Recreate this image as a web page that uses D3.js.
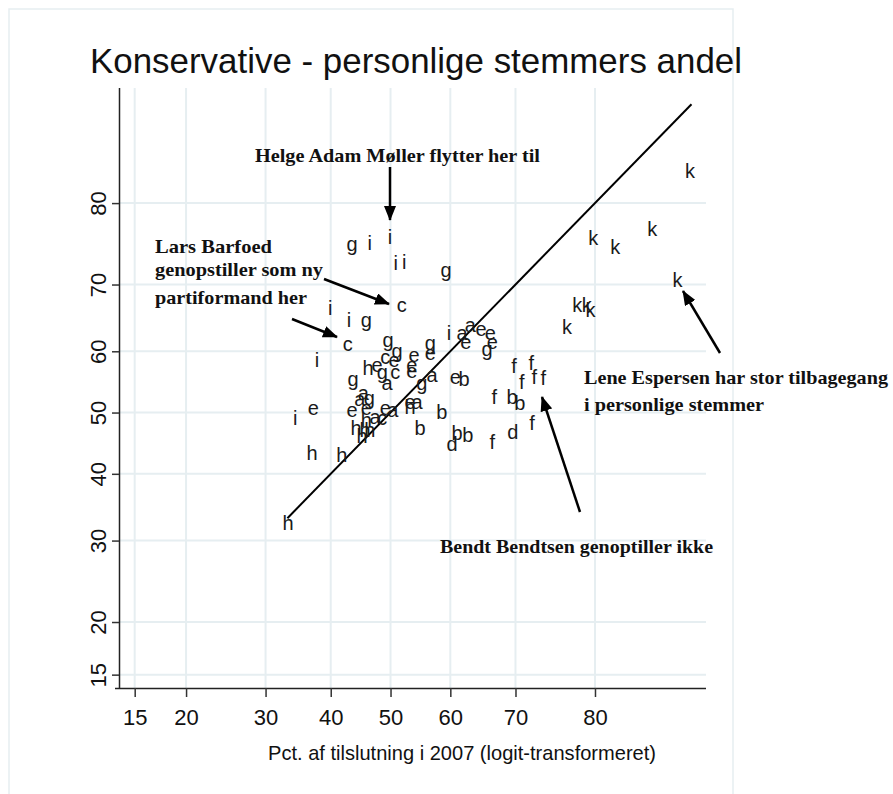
<!DOCTYPE html>
<html><head><meta charset="utf-8">
<script src="https://cdnjs.cloudflare.com/ajax/libs/d3/7.8.5/d3.min.js"></script>
<style>body{margin:0;background:#fff}svg{display:block}</style>
</head><body><svg id="chart" width="893" height="794"></svg>
<script>
// ---- data ----
const tickValues = [15, 20, 30, 40, 50, 60, 70, 80];
const tickLabels = ["15", "20", "30", "40", "50", "60", "70", "80"];
const pointLabels = ["k","i","g","i","i","i","g","k","k","k","k","c","i","i","g","k","k","k","k","c",
  "i","g","g","g","e","e","c","e","h","e","g","c","e","e","a","g","g","a","a","a",
  "g","e","e","a","e","a","h","b","e","i","a","c","e","h","h","h","h","h","b","h",
  "h","h","b","b","d","f","d","b","b","f","f","f","f","f","f","f","i","a","a","e",
  "e","e","g","e","e","b"];
const xValues = [88.4,49.9,43.5,46.5,50.9,52.3,59.3,79.8,82.1,85.5,87.5,51.9,39.9,43.0,45.9,78.0,79.1,79.5,76.8,42.8,
  37.8,49.6,51.1,56.7,54.0,56.7,49.1,50.6,46.2,47.7,48.6,50.8,53.6,53.6,49.4,43.7,55.3,57.0,45.4,44.8,
  46.4,43.5,49.1,50.4,53.3,54.5,53.3,58.6,37.2,34.4,47.4,48.6,45.9,45.9,44.2,45.7,46.5,45.2,55.0,37.0,
  41.8,33.3,61.1,62.8,60.3,66.6,69.6,69.5,70.6,66.9,69.8,72.2,70.9,72.6,73.8,72.3,59.8,63.2,61.9,62.5,
  64.9,66.3,65.8,66.6,60.8,62.2];
const yValues = [83.2,76.2,75.3,75.4,72.9,73.0,72.0,76.0,74.9,77.1,70.6,67.1,66.6,64.8,64.8,67.1,67.1,66.3,63.8,61.1,
  58.6,61.8,60.0,61.3,59.4,59.7,59.1,58.6,57.3,57.8,56.7,56.7,57.8,56.8,54.9,55.5,54.9,56.2,53.2,52.2,
  52.4,50.4,50.7,50.4,51.7,51.7,50.9,50.1,50.7,49.1,49.3,49.1,50.7,48.8,47.4,47.1,47.1,46.1,47.4,43.3,
  43.0,32.5,46.6,46.3,44.8,45.1,46.8,52.6,51.6,52.6,57.6,58.1,55.0,55.8,55.7,48.3,62.9,64.1,62.9,61.5,
  63.5,62.9,60.3,61.5,55.8,55.5];
const diagonalRange = [33.2, 88.5];
const titleText = "Konservative - personlige stemmers andel";
const xTitleText = "Pct. af tilslutning i 2007 (logit-transformeret)";

// ---- layout ----
const svg = d3.select("#chart");
const logit = p => Math.log(p / (100 - p));
const plot = {left: 119, right: 706, top: 88, bottom: 688};
const x = d3.scaleLinear().domain([-1.841, 2.139]).range([plot.left, plot.right]);
const y = d3.scaleLinear().domain([-1.823, 2.148]).range([plot.bottom, plot.top]);
const gridCol = "#e6eef1";
const sans = "'Liberation Sans', Arial, sans-serif";
const serif = "'Liberation Serif', 'Times New Roman', serif";

// outer frame
svg.append("rect").attr("x", 9).attr("y", 9).attr("width", 724).attr("height", 820)
  .attr("fill", "none").attr("stroke", gridCol).attr("stroke-width", 1.5);

// grid
const grid = svg.append("g");
grid.selectAll("line.v").data(tickValues).join("line")
  .attr("x1", d => x(logit(d))).attr("x2", d => x(logit(d)))
  .attr("y1", plot.top).attr("y2", plot.bottom)
  .attr("stroke", gridCol).attr("stroke-width", 2);
grid.selectAll("line.h").data(tickValues).join("line")
  .attr("y1", d => y(logit(d))).attr("y2", d => y(logit(d)))
  .attr("x1", plot.left).attr("x2", plot.right)
  .attr("stroke", gridCol).attr("stroke-width", 2);

// axes
const xAxis = d3.axisBottom(x).tickValues(tickValues.map(logit))
  .tickFormat((d, i) => tickLabels[i]).tickSize(9).tickPadding(12).tickSizeOuter(0);
const gx = svg.append("g").attr("transform", `translate(0,${plot.bottom})`).call(xAxis);
gx.select(".domain").attr("d", `M${plot.left - 4},0.5H${plot.right}`).attr("stroke", "#222").attr("stroke-width", 1.5);
gx.selectAll(".tick line").attr("stroke", "#333").attr("stroke-width", 1.5);
gx.selectAll(".tick text").attr("font-family", sans).attr("font-size", 22).attr("fill", "#111");

const yAxis = d3.axisLeft(y).tickValues(tickValues.map(logit))
  .tickFormat((d, i) => tickLabels[i]).tickSize(7).tickPadding(0).tickSizeOuter(0);
const gy = svg.append("g").attr("transform", `translate(${plot.left},0)`).call(yAxis);
gy.select(".domain").attr("d", `M0.5,${plot.top}V${plot.bottom + 1}`).attr("stroke", "#222").attr("stroke-width", 1.5);
gy.selectAll(".tick line").attr("stroke", "#333").attr("stroke-width", 1.5);
gy.selectAll(".tick text").attr("font-family", sans).attr("font-size", 22).attr("fill", "#111")
  .attr("transform", "rotate(-90)").attr("x", 0).attr("y", -13).attr("dy", 0)
  .attr("text-anchor", "middle");

// diagonal reference line
svg.append("line")
  .attr("x1", x(logit(diagonalRange[0]))).attr("y1", y(logit(diagonalRange[0])))
  .attr("x2", x(logit(diagonalRange[1]))).attr("y2", y(logit(diagonalRange[1])))
  .attr("stroke", "#000").attr("stroke-width", 2);

// letter markers
svg.append("g").selectAll("text").data(pointLabels).join("text")
  .attr("x", (d, i) => x(logit(xValues[i])))
  .attr("y", (d, i) => y(logit(yValues[i])))
  .attr("dy", "0.35em").attr("text-anchor", "middle")
  .attr("font-family", sans).attr("font-size", 20).attr("fill", "#1a1a1a")
  .text(d => d);

// title & axis title
svg.append("text").attr("x", 90).attr("y", 73).attr("font-family", sans).attr("font-size", 35)
  .attr("fill", "#111").attr("textLength", 652).attr("lengthAdjust", "spacingAndGlyphs").text(titleText);
svg.append("text").attr("x", 462).attr("y", 760).attr("text-anchor", "middle").attr("font-family", sans)
  .attr("font-size", 21).attr("fill", "#111").attr("textLength", 388).attr("lengthAdjust", "spacingAndGlyphs")
  .text(xTitleText);

// annotations
svg.append("defs").append("marker").attr("id", "ah").attr("viewBox", "0 0 15 12")
  .attr("refX", 14).attr("refY", 6).attr("markerWidth", 15).attr("markerHeight", 12)
  .attr("markerUnits", "userSpaceOnUse").attr("orient", "auto")
  .append("path").attr("d", "M0,0L15,6L0,12Z").attr("fill", "#000");

const notes = [
  {t: "Helge Adam Møller flytter her til", x: 255, y: 162, w: 285},
  {t: "Lars Barfoed", x: 155, y: 253, w: 117},
  {t: "genopstiller som ny", x: 155, y: 276, w: 168},
  {t: "partiformand her", x: 155, y: 304, w: 152},
  {t: "Lene Espersen har stor tilbagegang", x: 584, y: 384, w: 304},
  {t: "i personlige stemmer", x: 584, y: 411, w: 180},
  {t: "Bendt Bendtsen genoptiller ikke", x: 440, y: 553, w: 273}
];
svg.append("g").selectAll("text").data(notes).join("text")
  .attr("x", d => d.x).attr("y", d => d.y).attr("font-family", serif).attr("font-weight", "bold")
  .attr("font-size", 19.5).attr("fill", "#111").attr("textLength", d => d.w).attr("lengthAdjust", "spacingAndGlyphs")
  .text(d => d.t);

const arrows = [
  [390, 167, 390, 220],
  [324, 279, 389, 304],
  [292, 319, 337, 337],
  [720, 353, 683, 291],
  [580, 512, 542, 397]
];
svg.append("g").selectAll("line").data(arrows).join("line")
  .attr("x1", d => d[0]).attr("y1", d => d[1]).attr("x2", d => d[2]).attr("y2", d => d[3])
  .attr("stroke", "#000").attr("stroke-width", 2.5).attr("marker-end", "url(#ah)");
</script>
</body></html>
